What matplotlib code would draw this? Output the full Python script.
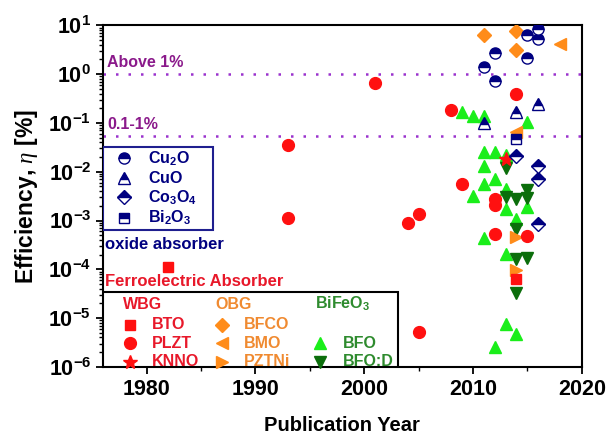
import numpy as np
import matplotlib
matplotlib.use("Agg")
from matplotlib import pyplot as plt
from matplotlib.patches import Rectangle
from matplotlib.ticker import LogLocator, FuncFormatter, MultipleLocator

plt.rcParams['font.family'] = ['Liberation Sans', 'DejaVu Sans']
plt.rcParams['mathtext.fontset'] = 'custom'
plt.rcParams['mathtext.rm'] = 'Liberation Sans:bold'
plt.rcParams['mathtext.bf'] = 'Liberation Sans:bold'
plt.rcParams['mathtext.it'] = 'Liberation Serif:italic'

# oxide absorbers
cu2o_year = [2011, 2012, 2012, 2015, 2015, 2016, 2016]
cu2o_eff = [1.4, 2.7, 0.71, 6.2, 2.1, 8.4, 5.3]
cuo_year = [2011, 2014, 2016]
cuo_eff = [0.1, 0.166, 0.25]
co3o4_year = [2014, 2016, 2016, 2016]
co3o4_eff = [0.021, 0.013, 0.0072, 0.00085]
bi2o3_year = [2014]
bi2o3_eff = [0.046]

# wide band gap ferroelectrics
bto_year = [1982, 2014]
bto_eff = [1.1e-4, 6.3e-5]
plzt_year = [1993, 1993, 2001, 2004, 2005, 2005, 2008, 2009, 2012, 2012, 2012, 2014, 2015]
plzt_eff = [0.035, 0.0011, 0.66, 0.00089, 0.00133, 5.1e-6, 0.18, 0.0057,
            0.0027, 0.0021, 0.00054, 0.4, 0.00048]
knno_year = [2013]
knno_eff = [0.018]

# optimal band gap
bfco_year = [2011, 2014, 2014]
bfco_eff = [6.2, 7.7, 3.2]
bmo_year = [2018, 2014]
bmo_eff = [4.2, 0.066]
pztni_year = [2014, 2014]
pztni_eff = [0.00045, 9.5e-5]

# BiFeO3
bfo_year = [2009, 2010, 2011, 2015, 2011, 2012, 2013, 2011, 2012, 2011, 2010, 2013,
            2013, 2015, 2014, 2011, 2013, 2013, 2014, 2012]
bfo_eff = [0.166, 0.137, 0.14, 0.107, 0.025, 0.025, 0.022, 0.013, 0.007, 0.0055, 0.0032,
           0.0044, 0.0017, 0.0019, 0.00105, 0.00043, 0.00021, 7.6e-6, 4.7e-6, 2.6e-6]
bfod_year = [2013, 2013, 2014, 2015, 2015, 2014, 2014, 2015, 2014]
bfod_eff = [0.012, 0.003, 0.0027, 0.0043, 0.0029, 0.00068, 0.00016, 0.00017, 3.2e-5]

above_1 = 1.0
range_01_1 = 0.055

NAVY = '#000080'
RED = '#ff1010'
ORANGE = '#ff8c1a'
LIME = '#1aee1a'
DKGREEN = '#0b6e0b'
PURPLE = '#9a32cd'

fig = plt.figure(figsize=(6.06, 4.42), dpi=100)
ax = fig.add_axes([0.170, 0.170, 0.790, 0.7726])

ms = 9
ax.plot(bfo_year, bfo_eff, '^', color=LIME, ms=ms, mec=LIME, ls='none', zorder=3)
ax.plot(bfod_year, bfod_eff, 'v', color=DKGREEN, ms=ms, mec=DKGREEN, ls='none', zorder=3)
ax.plot(bfco_year, bfco_eff, 'D', color=ORANGE, ms=7.5, mec=ORANGE, ls='none', zorder=4)
ax.plot(bmo_year, bmo_eff, '<', color=ORANGE, ms=ms, mec=ORANGE, ls='none', zorder=4)
ax.plot(pztni_year, pztni_eff, '>', color=ORANGE, ms=ms, mec=ORANGE, ls='none', zorder=4)
ax.plot(plzt_year, plzt_eff, 'o', color=RED, ms=8.5, mec=RED, ls='none', zorder=5)
ax.plot(bto_year, bto_eff, 's', color=RED, ms=7.5, mec=RED, ls='none', zorder=5)
ax.plot(knno_year, knno_eff, '*', color=RED, ms=10, mec=RED, ls='none', zorder=5)

half = dict(color=NAVY, fillstyle='top', markerfacecoloralt='white', mec=NAVY,
            mew=1.0, ls='none', zorder=6)
ax.plot(cu2o_year, cu2o_eff, 'o', ms=8, **half)
ax.plot(cuo_year, cuo_eff, '^', ms=9, **half)
ax.plot(co3o4_year, co3o4_eff, 'D', ms=7, **half)
ax.plot(bi2o3_year, bi2o3_eff, 's', ms=7, **half)

ax.axhline(above_1, color=PURPLE, lw=1.8, ls=(0, (1, 4)), zorder=2)
ax.axhline(range_01_1, color=PURPLE, lw=1.8, ls=(0, (1, 4)), zorder=2)
ax.text(1976.4, above_1 * 1.2, 'Above 1%', color='#8b1a8b', fontsize=11.5,
        fontweight='bold', va='bottom')
ax.text(1976.4, range_01_1 * 1.2, '0.1-1%', color='#8b1a8b', fontsize=11.5,
        fontweight='bold', va='bottom')

ax.set_yscale('log')
ax.set_xlim(1976, 2020)
ax.set_ylim(1e-6, 10)
ax.xaxis.set_major_locator(MultipleLocator(10))
ax.xaxis.set_minor_locator(MultipleLocator(5))
ax.yaxis.set_major_locator(LogLocator(base=10, numticks=20))
ax.yaxis.set_minor_locator(LogLocator(base=10, subs=np.arange(2, 10), numticks=20))
ax.yaxis.set_major_formatter(FuncFormatter(
    lambda v, p: r'$\mathbf{10^{%d}}$' % int(round(np.log10(v)))))
ax.tick_params(which='major', direction='out', length=5, width=1.3, labelsize=15.5)
ax.tick_params(which='minor', direction='out', length=3, width=1.0)
for lab in ax.get_xticklabels():
    lab.set_fontweight('bold')
for s in ax.spines.values():
    s.set_linewidth(1.5)

ax.set_xlabel('Publication Year', fontsize=14.5, fontweight='bold', labelpad=12)
ax.set_ylabel(r'Efficiency, $\eta$ [%]', fontsize=16.5, fontweight='bold', labelpad=6)

T = ax.transAxes

# oxide legend
ax.add_patch(Rectangle((0, 0.401), 0.23, 0.243, transform=T, fc='white',
                       ec='#1f1f8f', lw=1.5, zorder=8))
ox_rows = [(r'$\mathbf{Cu_2O}$', 'o', 8), (r'$\mathbf{CuO}$', '^', 9),
           (r'$\mathbf{Co_3O_4}$', 'D', 7), (r'$\mathbf{Bi_2O_3}$', 's', 7)]
for (lab, m, size), yy in zip(ox_rows, [0.611, 0.554, 0.496, 0.437]):
    h = dict(half)
    h['zorder'] = 9
    ax.plot([0.044], [yy], m, ms=size, transform=T, **h)
    ax.text(0.094, yy, lab, transform=T, color=NAVY, fontsize=11.5,
            va='center', zorder=9)
ax.text(0.004, 0.357, 'oxide absorber', transform=T, color=NAVY, fontsize=12,
        fontweight='bold', va='center', zorder=9)
ax.text(0.004, 0.249, 'Ferroelectric Absorber', transform=T, color='#e8182a',
        fontsize=12, fontweight='bold', va='center', zorder=9)

# ferroelectric legend
ax.add_patch(Rectangle((0, 0), 0.616, 0.22, transform=T, fc='white',
                       ec='black', lw=1.5, zorder=8))
heads = [('WBG', 0.042, '#e8182a'), ('OBG', 0.234, '#f08a30'),
         (r'$\mathbf{BiFeO_3}$', 0.443, '#2e8b2e')]
for lab, xx, c in heads:
    ax.text(xx, 0.184, lab, transform=T, color=c, fontsize=11.5,
            fontweight='bold', va='center', zorder=9)

rows_y = [0.123, 0.069, 0.015]
entries = [
    (0.056, 0, 's', 7.5, RED, 'BTO', '#e8182a'),
    (0.056, 1, 'o', 8.5, RED, 'PLZT', '#e8182a'),
    (0.056, 2, '*', 10, RED, 'KNNO', '#e8182a'),
    (0.248, 0, 'D', 7.5, ORANGE, 'BFCO', '#f08a30'),
    (0.248, 1, '<', 9, ORANGE, 'BMO', '#f08a30'),
    (0.248, 2, '>', 9, ORANGE, 'PZTNi', '#f08a30'),
    (0.454, 1, '^', 9, LIME, 'BFO', '#2e8b2e'),
    (0.454, 2, 'v', 9, DKGREEN, 'BFO:D', '#2e8b2e'),
]
for xx, r, m, size, mc, lab, tc in entries:
    yy = rows_y[r]
    ax.plot([xx], [yy], m, ms=size, color=mc, mec=mc, transform=T, zorder=9,
            clip_on=False)
    ax.text(xx + 0.047, yy, lab, transform=T, color=tc, fontsize=11.5,
            fontweight='bold', va='center', zorder=9)

fig.savefig('out.png', dpi=100)
